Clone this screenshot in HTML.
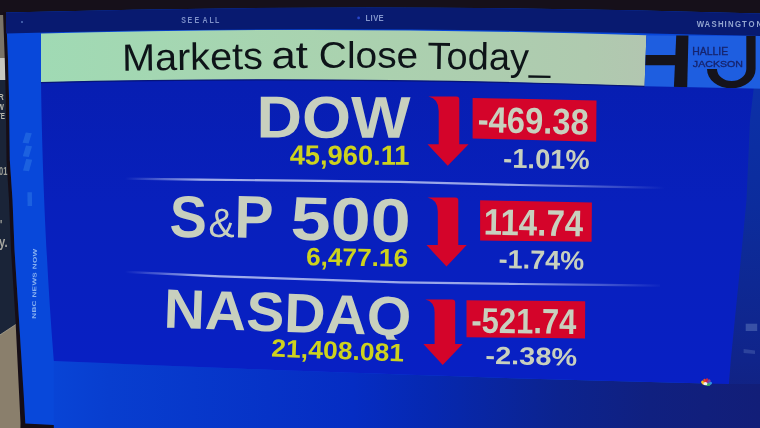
<!DOCTYPE html><html><head><meta charset="utf-8"><style>
html,body{margin:0;padding:0;width:760px;height:428px;overflow:hidden;background:#140c14}
svg{display:block}
text{font-family:"Liberation Sans",sans-serif}
</style></head><body>
<svg width="760" height="428" viewBox="0 0 760 428">
<defs>
<linearGradient id="gTitle" x1="41" y1="0" x2="646" y2="0" gradientUnits="userSpaceOnUse">
 <stop offset="0" stop-color="#a0dab4"/><stop offset="0.5" stop-color="#aad2af"/><stop offset="0.9" stop-color="#afcaaf"/><stop offset="1" stop-color="#b2c6b0"/>
</linearGradient>
<linearGradient id="gBottom" x1="20" y1="0" x2="760" y2="0" gradientUnits="userSpaceOnUse">
 <stop offset="0" stop-color="#0848da"/><stop offset="0.12" stop-color="#083ecf"/><stop offset="0.45" stop-color="#052dc3"/><stop offset="0.56" stop-color="#0628b0"/><stop offset="0.73" stop-color="#0c238e"/><stop offset="0.85" stop-color="#102080"/><stop offset="1" stop-color="#121e78"/>
</linearGradient>
<linearGradient id="gPanel" x1="0" y1="85" x2="0" y2="380" gradientUnits="userSpaceOnUse">
 <stop offset="0" stop-color="#071eb2"/><stop offset="0.4" stop-color="#0820bc"/><stop offset="1" stop-color="#0820c4"/>
</linearGradient>
<linearGradient id="gRM" x1="0" y1="88" x2="0" y2="428" gradientUnits="userSpaceOnUse"><stop offset="0" stop-color="#0c30a8"/><stop offset="0.35" stop-color="#0c2c9c"/><stop offset="0.8" stop-color="#10248a"/><stop offset="1" stop-color="#12207c"/></linearGradient>
<linearGradient id="gSep" x1="0" y1="0" x2="1" y2="0">
 <stop offset="0" stop-color="#c8d0f0" stop-opacity="0"/><stop offset="0.15" stop-color="#c8d0f0" stop-opacity="0.9"/><stop offset="0.7" stop-color="#c8d0f0" stop-opacity="0.8"/><stop offset="1" stop-color="#c8d0f0" stop-opacity="0"/>
</linearGradient>
<filter id="bl" x="-5%" y="-5%" width="110%" height="110%" color-interpolation-filters="sRGB"><feGaussianBlur stdDeviation="0.7"/></filter></defs>
<g filter="url(#bl)">
<polygon points="-20.00,-20.00 780.00,-20.00 780.00,448.00 -20.00,448.00" fill="#16101a" />
<polygon points="-20.00,20.00 8.00,20.00 25.00,448.00 -20.00,448.00" fill="#1a2438" />
<polygon points="-20.00,348.00 18.00,323.00 25.00,448.00 -20.00,448.00" fill="#8a7f6c" />
<line x1="-20" y1="348" x2="18" y2="323" stroke="#c0b8a0" stroke-width="1" stroke-opacity="0.6"/>
<polygon points="-20.00,15.00 6.00,15.00 6.00,58.00 -20.00,58.00" fill="#7a7468" />
<polygon points="-20.00,58.00 6.00,58.00 7.00,80.00 -20.00,80.00" fill="#c8c8c0" />
<polygon points="3.00,12.00 6.50,12.00 8.00,60.00 9.10,100.00 9.80,160.00 12.50,200.00 14.50,250.00 19.00,320.00 23.70,395.00 25.30,423.40 82.00,426.60 140.00,428.60 140.00,448.00 20.00,448.00 20.50,423.00 15.50,320.00 11.00,250.00 9.00,200.00 6.50,160.00 5.80,100.00 4.80,60.00" fill="#150d16" />
<g fill="#b8b8ae" font-weight="bold" font-size="9"><text transform="translate(-1.5,100.4) scale(0.8,1)">R</text><text transform="translate(-2.5,109.8) scale(0.75,1)">W</text><text transform="translate(-3,119.1) scale(0.7,1)">TE</text><text transform="translate(-1,174.5) scale(0.75,1)" font-size="10" fill="#a0a098">01</text><text transform="translate(-1,247) scale(0.8,1)" font-size="14" fill="#a8a8a0">y.</text><text transform="translate(0,229) scale(0.8,1)" font-size="12" fill="#a8a8a0">'</text></g>
<path d="M6,12.6 Q383,2 760,13.5 L780,13.8 L780,448 L160,448 L140,428.6 L82,426.6 L25.3,423.4 L23.7,395 L19,320 L14.5,250 L12.5,200 L9.8,160 L9.1,100 L8,60 Z" fill="#0848da" />
<path d="M6,12.6 Q383,2 760,13.5 L780,13.8 L780,36.2 L760,36 Q330,24 6,33.6 Z" fill="#081a70" />
<polygon points="700.00,88.00 780.00,88.00 780.00,448.00 700.00,448.00" fill="url(#gRM)" />
<path d="M53.8,361 C240,369 440,377 729,384 L780,384 L780,448 L53.8,448 Z" fill="url(#gBottom)" />
<path d="M41,33.6 L41,82 C42,150 45,250 53.8,361 C240,369 440,377 728.9,384 L730.8,360 L738.8,280 L746.5,200 L750,120 L754.7,80 L757.5,36 Z" fill="url(#gPanel)" />
<path d="M41,33.6 Q330,25.5 646.4,35.3 L644.6,86.2 Q330,75.5 41,82.4 Z" fill="url(#gTitle)" />
<path d="M41,82.6 Q330,75.7 644.6,86.4" fill="none" stroke="#061478" stroke-width="1.2"/>
<path d="M646.4,35.3 L780,36.2 L780,89.2 L644.6,86.2 Z" fill="#1e5ee0" />
<clipPath id="cHJ"><path d="M646.4,35.3 L780,36.2 L780,89.2 L644.6,86.2 Z"/></clipPath>
<g clip-path="url(#cHJ)">
<path d="M676.5,30 L688.6,30 L687.1,92 L673.7,92 Z" fill="#15131b" />
<path d="M630,55.1 L677,55.1 L677,65.3 L630,65.3 Z" fill="#15131b" />
<path d="M746.3,30 L755.6,30 L755.6,69 A24.3,19.4 0 0 1 707,69 L717,69 A14.65,12 0 0 0 746.3,69 Z" fill="#15131b" />
</g>
<linearGradient id="gS1" x1="125" y1="0" x2="665" y2="0" gradientUnits="userSpaceOnUse"><stop offset="0" stop-color="#a8b4ec" stop-opacity="0"/><stop offset="0.14" stop-color="#a8b4ec" stop-opacity="0.95"/><stop offset="0.72" stop-color="#a8b4ec" stop-opacity="0.9"/><stop offset="1" stop-color="#a8b4ec" stop-opacity="0"/></linearGradient>
<polyline points="125,178.6 200,179.6 300,180.7 400,181.8 520,185 640,187.4 665,187.9" fill="none" stroke="url(#gS1)" stroke-width="2.2"/>
<polyline points="125,271.8 220,276.3 280,278.3 400,282.3 520,284 600,284.9 660,285.6" fill="none" stroke="url(#gS1)" stroke-width="2.2"/>
<text transform="translate(125.30,70.60) rotate(-0.720) scale(1.0476,1)" x="-3.03" y="0" font-size="37.83" font-weight="normal" fill="#0e1418" >Markets</text>
<text transform="translate(273.40,68.20) rotate(-0.300) scale(1.1592,1)" x="-1.70" y="0" font-size="37.83" font-weight="normal" fill="#0e1418" >at</text>
<text transform="translate(320.80,68.30) rotate(0.000) scale(1.0274,1)" x="-1.89" y="0" font-size="37.83" font-weight="normal" fill="#0e1418" >Close</text>
<text transform="translate(428.00,68.70) rotate(0.850) scale(1.0074,1)" x="-0.76" y="0" font-size="37.83" font-weight="normal" fill="#0e1418" >Today_</text>
<text transform="translate(260.50,137.60) rotate(0.100) scale(1.0650,1)" x="-3.84" y="0" font-size="59.14" font-weight="bold" fill="#c8d0be" >DOW</text>
<text transform="translate(170.90,236.70) rotate(1.200) scale(0.9471,1)" x="-1.77" y="0" font-size="59.14" font-weight="bold" fill="#c8d0be" >S</text>
<text transform="translate(209.70,236.70) rotate(1.200) scale(0.9636,1)" x="-1.44" y="0" font-size="41.01" font-weight="normal" fill="#c8d0be" >&amp;</text>
<text transform="translate(237.70,237.50) rotate(1.200) scale(0.9698,1)" x="-3.93" y="0" font-size="60.43" font-weight="bold" fill="#c8d0be" >P</text>
<text transform="translate(292.30,239.50) rotate(1.300) scale(1.1693,1)" x="-1.85" y="0" font-size="61.57" font-weight="bold" fill="#c8d0be" >500</text>
<clipPath id="cNQ"><polygon points="150,270 430,270 430,340.5 150,335"/></clipPath>
<g clip-path="url(#cNQ)">
<text transform="translate(167.00,327.70) rotate(1.930) scale(1.0326,1)" x="-3.60" y="0" font-size="55.36" font-weight="bold" fill="#c8d0be" >NASDAQ</text>
</g>
<text transform="translate(290.10,164.50) rotate(0.200) scale(0.9843,1)" x="-0.42" y="0" font-size="27.71" font-weight="bold" fill="#cdd21e" >45,960.11</text>
<text transform="translate(306.80,265.20) rotate(0.800) scale(1.0444,1)" x="-0.88" y="0" font-size="25.14" font-weight="bold" fill="#cdd21e" >6,477.16</text>
<text transform="translate(272.00,356.60) rotate(2.190) scale(1.0492,1)" x="-0.89" y="0" font-size="25.29" font-weight="bold" fill="#cdd21e" >21,408.081</text>
<path d="M428.40,96.50 L456.30,96.50 Q459.30,96.50 459.30,99.50 L459.30,144.20 L468.60,144.20 L447.70,165.70 L427.50,144.20 L438.70,144.20 L438.70,111.00 Q438.70,98.50 428.40,96.50 Z" fill="#d4042a" />
<path d="M427.50,197.50 L455.30,197.50 Q458.30,197.50 458.30,200.50 L458.30,245.10 L466.70,245.10 L446.50,266.60 L426.50,245.10 L437.80,245.10 L437.80,211.50 Q437.80,199.50 427.50,197.50 Z" fill="#d4042a" />
<path d="M425.30,299.50 L452.20,299.50 Q455.20,299.50 455.20,302.50 L455.20,344.00 L462.70,344.00 L442.70,364.90 L423.40,344.00 L434.60,344.00 L434.60,312.60 Q434.60,301.50 425.30,299.50 Z" fill="#d4042a" />
<polygon points="472.60,97.90 596.50,100.50 596.20,141.70 472.60,138.50" fill="#d4042a" />
<polygon points="480.10,200.30 591.90,202.50 591.60,241.80 480.10,240.50" fill="#d4042a" />
<polygon points="466.50,300.30 585.20,301.20 585.00,338.50 466.50,337.20" fill="#d4042a" />
<text transform="translate(478.70,131.90) rotate(1.500) scale(0.8991,1)" x="-1.46" y="0" font-size="36.43" font-weight="bold" fill="#c8d0be" >-469.38</text>
<text transform="translate(485.70,234.60) rotate(1.100) scale(0.8934,1)" x="-2.41" y="0" font-size="37.10" font-weight="bold" fill="#c8d0be" >114.74</text>
<text transform="translate(472.40,332.60) rotate(0.700) scale(0.8708,1)" x="-1.42" y="0" font-size="35.57" font-weight="bold" fill="#c8d0be" >-521.74</text>
<text transform="translate(504.20,167.70) rotate(1.100) scale(0.9976,1)" x="-1.09" y="0" font-size="27.29" font-weight="bold" fill="#c8d0be" >-1.01%</text>
<text transform="translate(499.50,268.00) rotate(1.200) scale(1.0209,1)" x="-1.06" y="0" font-size="26.47" font-weight="bold" fill="#c8d0be" >-1.74%</text>
<text transform="translate(486.40,363.90) rotate(1.100) scale(1.1663,1)" x="-0.99" y="0" font-size="24.86" font-weight="bold" fill="#c8d0be" >-2.38%</text>
<text transform="translate(0,23.00) scale(0.8000,1)" x="226.62 234.50 243.00 253.25 262.00 268.88" y="0" font-size="8.84" font-weight="bold" fill="#7e90c8">SEEALL</text>
<text transform="translate(0,20.70) scale(0.8000,1)" x="457.00 463.25 466.50 473.25" y="0" font-size="9.57" font-weight="bold" fill="#8496cc">LIVE</text>
<text transform="translate(0,26.70) scale(0.8400,1)" x="829.40 838.69 846.90 854.76 862.62 866.67 875.00 883.33 891.19 900.71" y="0" font-size="9.28" font-weight="bold" fill="#94a6d0">WASHINGTON</text>
<text transform="translate(693.00,55.10) rotate(0.000) scale(1.0001,1)" x="-0.83" y="0" font-size="10.43" font-weight="normal" fill="#16246e" stroke="#16246e" stroke-width="0.35">HALLIE</text>
<text transform="translate(693.00,66.50) rotate(0.000) scale(1.0770,1)" x="-0.15" y="0" font-size="9.86" font-weight="normal" fill="#16246e" stroke="#16246e" stroke-width="0.35">JACKSON</text>
<circle cx="358.6" cy="17.9" r="1.4" fill="#2846c8"/>
<circle cx="22" cy="22" r="1" fill="#5070b8"/>
<text transform="translate(35.9,318.8) rotate(-89.2) scale(1.45,1)" x="0" y="0" font-size="5.6" font-weight="bold" fill="#8ab2f0" textLength="48.3" lengthAdjust="spacing">NBC NEWS NOW</text>
<polygon points="25.80,132.40 31.80,133.20 28.60,143.60 22.60,142.80" fill="#3a86ea" fill-opacity="0.42"/>
<polygon points="26.00,145.40 32.00,146.20 28.80,157.00 22.80,156.20" fill="#3a86ea" fill-opacity="0.42"/>
<polygon points="26.20,159.00 32.20,159.80 29.00,171.20 23.00,170.40" fill="#3a86ea" fill-opacity="0.42"/>
<polygon points="27.40,192.20 31.90,192.20 32.10,205.90 27.60,205.90" fill="#3a86ea" fill-opacity="0.42"/>
<polygon points="745.70,323.70 757.20,323.70 757.20,331.00 745.70,331.00" fill="#4a62b0" fill-opacity="0.7"/>
<polygon points="743.60,349.00 755.00,350.50 755.00,354.10 743.60,353.00" fill="#4a62b0" fill-opacity="0.5"/>
<g transform="translate(706.4,383.2)"><ellipse cx="-3.2" cy="-0.5" rx="1.6" ry="2.4" transform="rotate(-50 -3.2 -0.5)" fill="#f4c020"/><ellipse cx="-1.5" cy="-2.2" rx="1.5" ry="2.4" transform="rotate(-20 -1.5 -2.2)" fill="#e84a20"/><ellipse cx="0.6" cy="-2.6" rx="1.5" ry="2.4" transform="rotate(5 0.6 -2.6)" fill="#d02040"/><ellipse cx="2.4" cy="-1.6" rx="1.5" ry="2.4" transform="rotate(35 2.4 -1.6)" fill="#8040a0"/><ellipse cx="3.6" cy="0.3" rx="1.5" ry="2.2" transform="rotate(60 3.6 0.3)" fill="#3090e0"/><ellipse cx="1.5" cy="1.5" rx="2.5" ry="1.4" fill="#40b060"/><ellipse cx="-1" cy="0.5" rx="2" ry="1.6" fill="#f0f0f0"/></g>
</g>
</svg></body></html>
